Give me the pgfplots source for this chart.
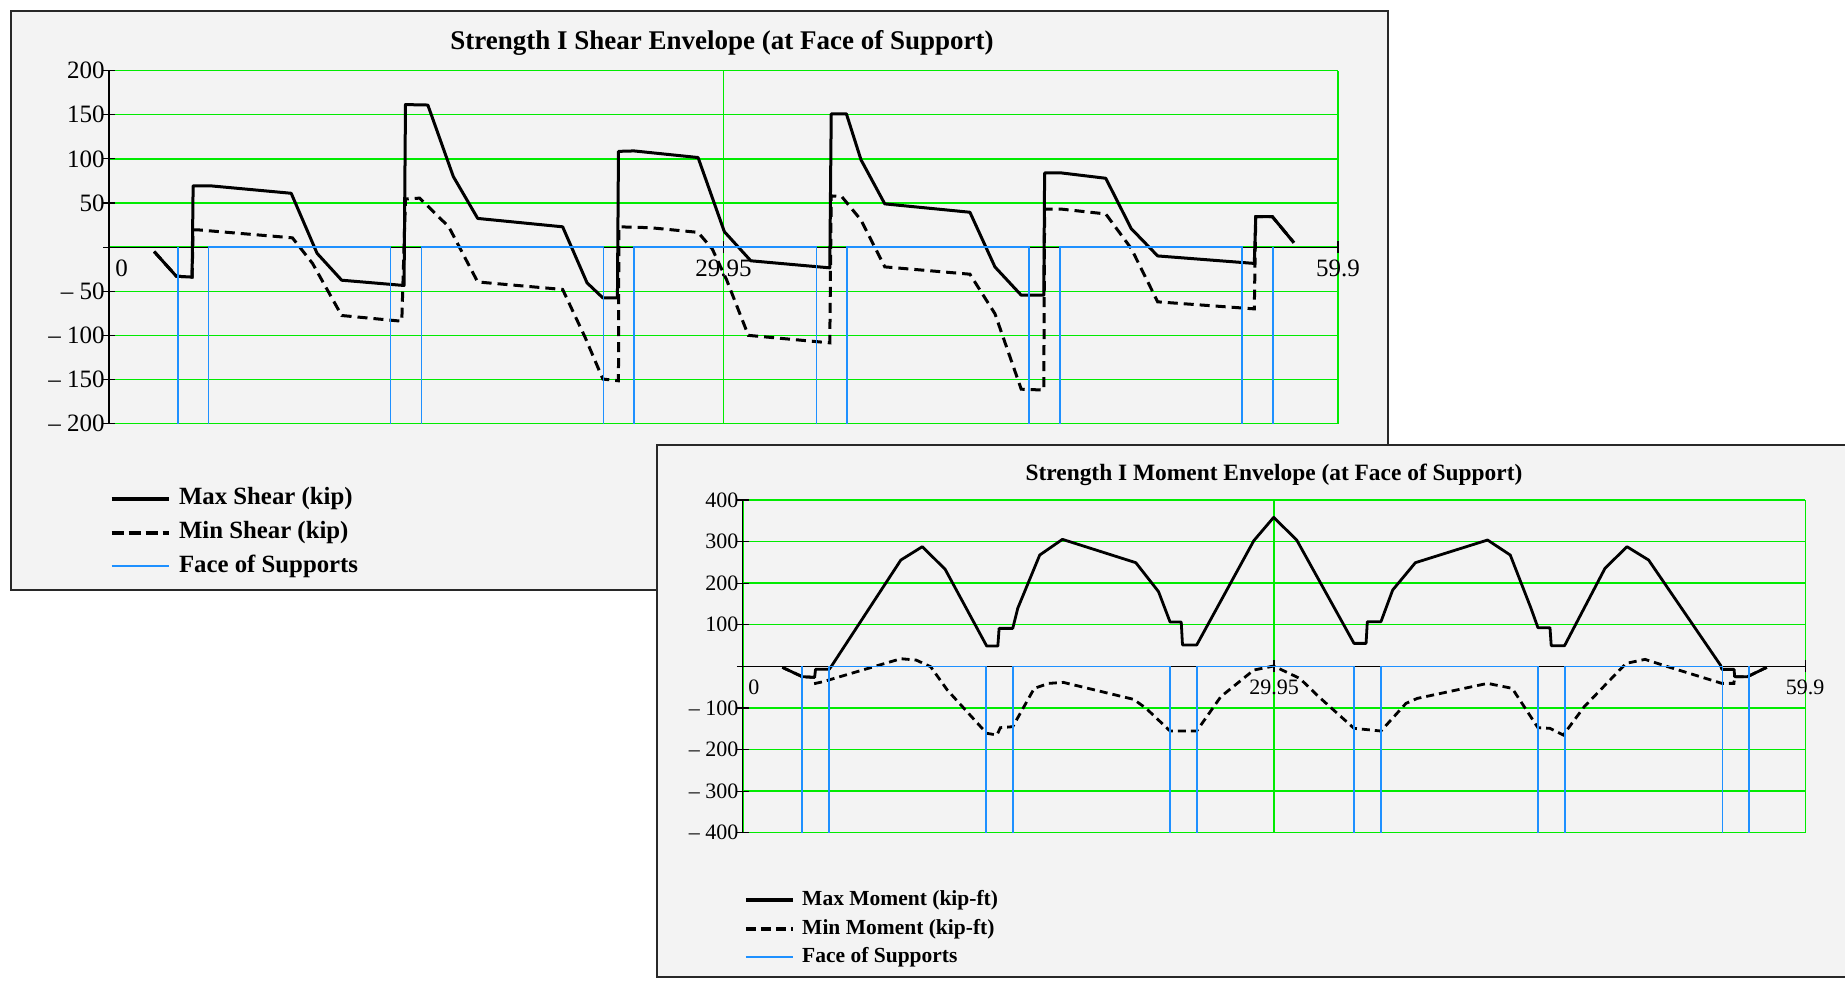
\documentclass[border=0pt]{standalone}
\usepackage{pgfplots}
\pgfplotsset{compat=1.18}
\usepackage{pgfplotstable}
\usepackage{fontspec}
\setmainfont{Liberation Serif}
\definecolor{gridgreen}{RGB}{0,235,0}
\definecolor{faceblue}{RGB}{30,144,255}
\definecolor{panelbg}{RGB}{243,243,243}
\definecolor{framec}{RGB}{40,40,40}

% Strength I shear envelope
\pgfplotstableread{
x y
2.20 -5
3.28 -33
4.05 -34
4.10 69.5
4.92 69.5
8.88 61
10.14 -7
11.34 -37.5
14.38 -43.5
14.45 161.5
15.54 161
16.78 80
17.97 32.5
22.11 23
23.30 -40.5
24.07 -57.5
24.78 -57.5
24.83 108.5
25.59 109
28.71 101.5
29.99 17.5
31.28 -15.5
35.13 -23.5
35.20 151
35.94 151
36.65 99
37.81 49
41.96 39.5
43.18 -22.5
44.46 -54.5
45.56 -54.5
45.60 84
46.44 84
48.58 78
49.82 21
51.11 -10
55.82 -18.5
55.89 34.5
56.70 34.5
57.75 5
}\shearmax

\pgfplotstableread{
x y
2.20 -5
3.28 -33
4.05 -34
4.10 19.5
4.37 19.5
8.94 10.5
9.92 -18.5
11.34 -77.5
14.27 -84
14.45 54.5
15.14 55.5
16.56 23
17.97 -39.5
22.11 -48
23.20 -102
24.07 -149.5
24.83 -151.5
24.85 23
26.38 22
28.71 16.7
29.40 -2
30.10 -37
31.16 -100
35.13 -108.5
35.20 58
35.71 57.3
36.65 30.7
37.81 -22.4
41.96 -30.7
43.18 -75.5
44.46 -161
45.56 -162
45.60 43
46.44 43
48.58 37.6
49.82 -1.5
51.11 -62
55.82 -70
55.89 34.5
56.70 34.5
57.75 5
}\shearmin

% Strength I moment envelope
\pgfplotstableread{
x y
2.23 -2.4
3.35 -24.8
4.05 -26.5
4.10 -7
4.87 -7
4.99 0
8.91 255.7
10.12 287.8
11.41 233.3
13.75 48.9
14.38 48.9
14.45 91.4
15.22 91.4
15.50 139.5
16.74 267.7
18.02 305.4
22.16 249.3
23.44 179.6
24.09 106.6
24.72 106.6
24.79 51.3
25.59 51.3
28.81 302.2
29.93 358.3
31.23 303.8
34.46 55.3
35.14 55.3
35.21 107.4
35.98 107.4
36.64 183.6
37.92 249.3
41.99 303.8
43.27 267.7
44.44 139.5
44.83 93
45.51 93
45.58 49.7
46.33 49.7
48.61 235.7
49.85 287.8
51.07 255.7
55.13 2.4
55.20 -7.2
55.89 -7.2
55.92 -24.8
56.64 -24.8
57.73 -2.4
}\momentmax

\pgfplotstableread{
x y
2.23 -2.4
3.35 -24.8
4.05 -26.5
4.10 -40.9
4.52 -36.9
8.91 18.4
9.77 15.2
10.59 -0.8
11.53 -56.9
13.75 -161
14.33 -165
14.52 -147.5
15.22 -145
16.43 -52.9
17.25 -40.9
18.07 -38.5
22.04 -79.4
22.74 -101
24.09 -155.5
25.59 -155.5
26.95 -72.9
28.81 -8.8
29.93 0.8
31.40 -28.9
32.47 -72.9
34.46 -149
35.98 -155.5
37.39 -89
38.03 -77
41.99 -40.9
43.38 -52.9
44.83 -147.5
45.51 -149
46.26 -165
47.44 -97
49.80 7.2
50.87 16.8
52.15 -0.8
55.20 -40.9
55.88 -40.9
55.92 -24.8
56.64 -24.8
57.73 -2.4
}\momentmin

\pgfplotsset{
  envaxis/.style={
    scale only axis,
    xmin=0, xmax=59.9,
    axis x line=middle, axis y line=left,
    every inner x axis line/.append style={-},
    every outer x axis line/.append style={-},
    every inner y axis line/.append style={-},
    every outer y axis line/.append style={-},
    hide obscured x ticks=false, hide obscured y ticks=false,
    xtick={0,29.95,59.9},
    xticklabels={\hphantom{00}0,29.95,59.9},
    grid=major,
    major grid style={gridgreen, line width=0.7pt},
    tick style={black, line width=0.6pt},
    major tick length=6pt, tick align=center,
    yticklabel style={inner xsep=0pt, xshift=1pt},
    unbounded coords=jump,
    axis line style={-, black, line width=0.6pt},
  },
}

\begin{document}
\begin{tikzpicture}
\useasboundingbox (0,0) rectangle (922.5pt,-490pt);
\fill[white] (0,0) rectangle (922.5pt,-490pt);

% ---------------- Panel 1 : shear ----------------
\filldraw[fill=panelbg, draw=framec, line width=1pt] (5.5pt,-5.5pt) rectangle (694pt,-295pt);
\node[font=\fontsize{13.5}{16}\selectfont\bfseries] at (361pt,-21.4pt) {Strength I Shear Envelope (at Face of Support)};
\begin{axis}[envaxis,
  at={(54.5pt,-211.8pt)}, anchor=south west,
  width=614.5pt, height=176.5pt,
  ymin=-200, ymax=200,
  ytick={-200,-150,...,200},
  yticklabels={– 200,– 150,– 100,– 50,,50,100,150,200},
  ticklabel style={font=\fontsize{12.5}{14}\selectfont},
]
\addplot[black, line width=1.5pt, dash pattern=on 5pt off 3pt] table {\shearmin};
\addplot[black, line width=1.5pt, line join=round] table {\shearmax};
\addplot[faceblue, line width=0.8pt] coordinates {
 (3.35,0) (3.35,-200) (4.85,nan) (4.85,-200) (4.85,0)
 (13.725,0) (13.725,-200) (15.225,nan) (15.225,-200) (15.225,0)
 (24.1,0) (24.1,-200) (25.6,nan) (25.6,-200) (25.6,0)
 (34.475,0) (34.475,-200) (35.975,nan) (35.975,-200) (35.975,0)
 (44.85,0) (44.85,-200) (46.35,nan) (46.35,-200) (46.35,0)
 (55.225,0) (55.225,-200) (56.725,nan) (56.725,-200) (56.725,0)
};
\end{axis}
% legend 1
\draw[black, line width=2.2pt] (55.8pt,-249.5pt) -- (84.4pt,-249.5pt);
\draw[black, line width=2.2pt, dash pattern=on 6pt off 2.5pt] (55.8pt,-266.5pt) -- (84.4pt,-266.5pt);
\draw[faceblue, line width=0.8pt] (55.8pt,-283pt) -- (84.4pt,-283pt);
\begin{scope}[every node/.style={anchor=west, inner sep=0pt, font=\fontsize{12.4}{14}\selectfont\bfseries}]
\node at (89.3pt,-249.5pt) {Max Shear (kip)};
\node at (89.3pt,-266.5pt) {Min Shear (kip)};
\node at (89.3pt,-283pt) {Face of Supports};
\end{scope}

% ---------------- Panel 2 : moment ----------------
\filldraw[fill=panelbg, draw=framec, line width=1pt] (328.5pt,-222.5pt) rectangle (930pt,-488.5pt);
\node[font=\fontsize{11.7}{14}\selectfont\bfseries] at (637pt,-237.5pt) {Strength I Moment Envelope (at Face of Support)};
\begin{axis}[envaxis,
  at={(371.4pt,-416.35pt)}, anchor=south west,
  width=531.2pt, height=166.35pt,
  ymin=-400, ymax=400,
  ytick={-400,-300,...,400},
  yticklabels={– 400,– 300,– 200,– 100,,100,200,300,400},
  ticklabel style={font=\fontsize{11}{13}\selectfont},
]
\addplot[black, line width=1.4pt, dash pattern=on 4pt off 2.5pt] table {\momentmin};
\addplot[black, line width=1.4pt, line join=round] table {\momentmax};
\addplot[faceblue, line width=0.8pt] coordinates {
 (3.35,0) (3.35,-400) (4.85,nan) (4.85,-400) (4.85,0)
 (13.725,0) (13.725,-400) (15.225,nan) (15.225,-400) (15.225,0)
 (24.1,0) (24.1,-400) (25.6,nan) (25.6,-400) (25.6,0)
 (34.475,0) (34.475,-400) (35.975,nan) (35.975,-400) (35.975,0)
 (44.85,0) (44.85,-400) (46.35,nan) (46.35,-400) (46.35,0)
 (55.225,0) (55.225,-400) (56.725,nan) (56.725,-400) (56.725,0)
};
\end{axis}
% legend 2
\draw[black, line width=2.2pt] (372.9pt,-450pt) -- (396.7pt,-450pt);
\draw[black, line width=2.2pt, dash pattern=on 5pt off 2.5pt] (372.9pt,-464.5pt) -- (396.7pt,-464.5pt);
\draw[faceblue, line width=0.8pt] (372.9pt,-478.5pt) -- (396.7pt,-478.5pt);
\begin{scope}[every node/.style={anchor=west, inner sep=0pt, font=\fontsize{10.75}{13}\selectfont\bfseries}]
\node at (400.9pt,-450pt) {Max Moment (kip-ft)};
\node at (400.9pt,-464.5pt) {Min Moment (kip-ft)};
\node at (400.9pt,-478.5pt) {Face of Supports};
\end{scope}
\end{tikzpicture}
\end{document}
